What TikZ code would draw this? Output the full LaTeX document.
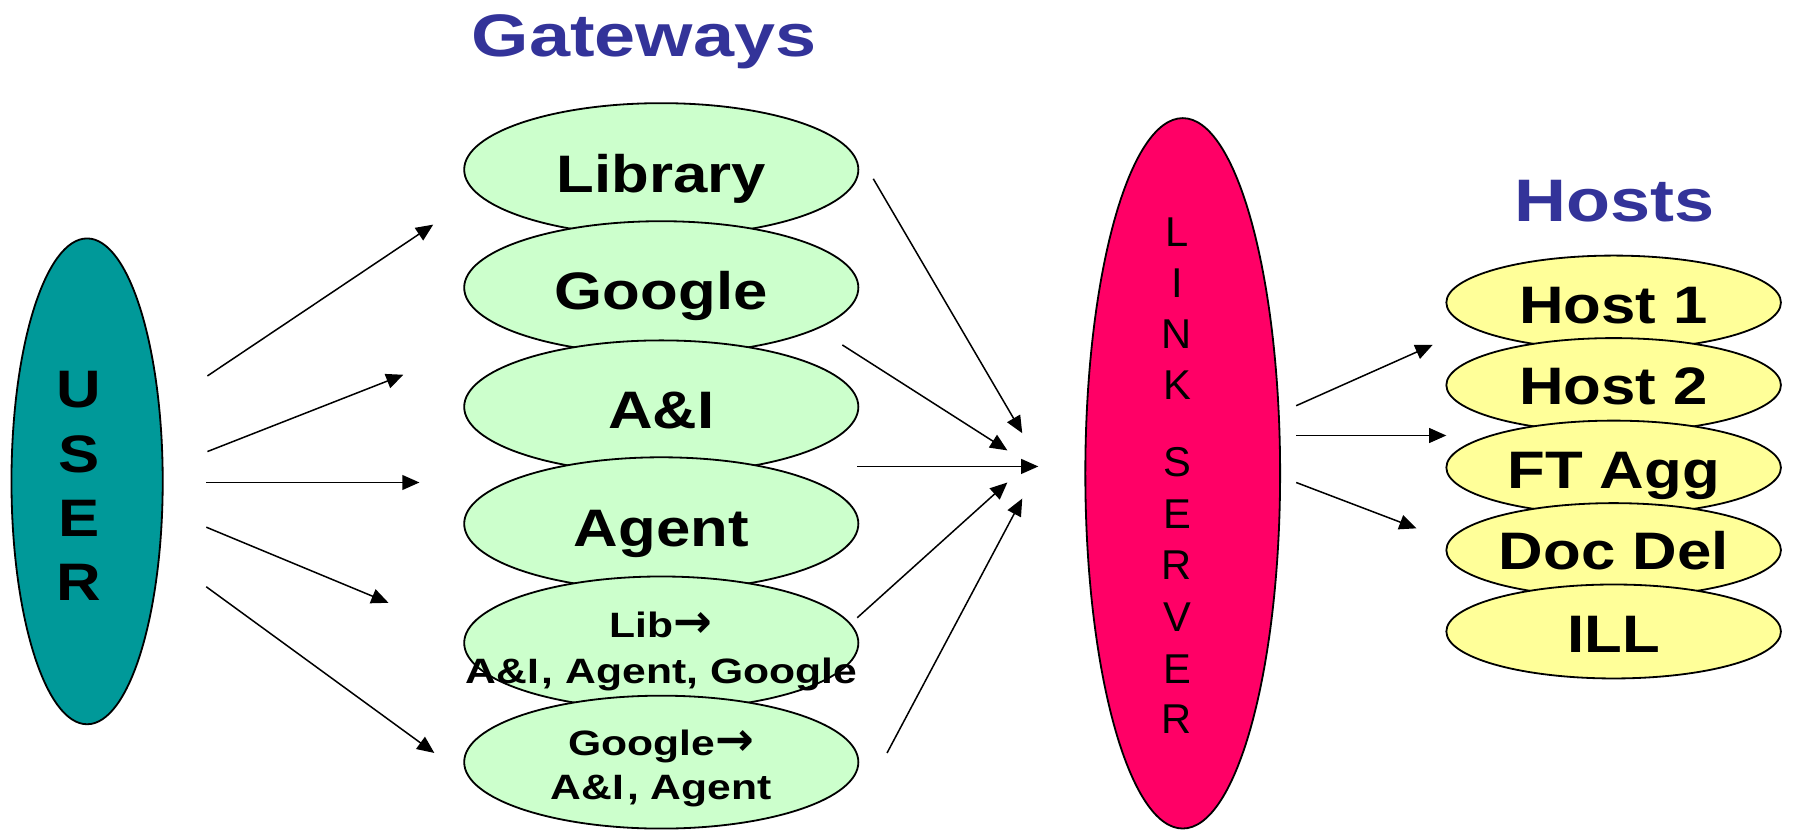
\documentclass[tikz,border=0pt]{standalone}
\usepackage{fontspec}
\setmainfont{Liberation Sans}
\newfontfamily\bodyf[FakeStretch=1.17]{Liberation Sans}
\newfontfamily\smallf[FakeStretch=1.21]{Liberation Sans}
\newfontfamily\titlef[FakeStretch=1.2]{Liberation Sans}
\newfontfamily\gwtitlef[FakeStretch=1.23]{Liberation Sans}
\newfontfamily\arrowf{DejaVu Sans}
\newcommand\myarrow{{\arrowf\bfseries\fontsize{23}{20}\selectfont →}}
\usetikzlibrary{shapes.geometric,arrows.meta}
\definecolor{userteal}{HTML}{009999}
\definecolor{gwgreen}{HTML}{CCFFCC}
\definecolor{linkpink}{HTML}{FF0066}
\definecolor{hostyellow}{HTML}{FFFF99}
\definecolor{titleblue}{HTML}{333399}
\begin{document}
\begin{tikzpicture}[x=0.02cm,y=-0.02cm,
  oval/.style={ellipse,draw=black,line width=0.9pt,inner sep=0pt},
  gw/.style={oval,fill=gwgreen,minimum width=6.88cm,minimum height=2.32cm},
  hostov/.style={oval,fill=hostyellow,minimum width=5.84cm,minimum height=1.64cm},
  bigtxt/.style={font=\bodyf\bfseries\fontsize{26.2}{30}\selectfont,anchor=base,inner sep=0pt},
  smalltxt/.style={font=\smallf\bfseries\fontsize{17.5}{20}\selectfont,anchor=base,inner sep=0pt},
  lettertxt/.style={font=\fontsize{20.7}{24}\selectfont,anchor=base,inner sep=0pt},
  titletxt/.style={font=\titlef\bfseries\fontsize{29.8}{34}\selectfont,text=titleblue,anchor=base,inner sep=0pt},
  arr/.style={-{Triangle[length=0.3cm,width=0.26cm]},line width=0.75pt}]
\useasboundingbox (0,0) rectangle (1568,727);
% titles
\node[titletxt,font=\gwtitlef\bfseries\fontsize{29.8}{34}\selectfont] (tgw) at (562,49) {Gateways};
\node[titletxt] (thost) at (1409,193) {Hosts};
% user
\node[oval,fill=userteal,minimum width=2.64cm,minimum height=8.48cm] (user) at (76,420) {};
\node[bigtxt] (uU) at (69,356) {U};
\node[bigtxt] (uS) at (69,412) {S};
\node[bigtxt] (uE) at (69,468) {E};
\node[bigtxt] (uR) at (69,524) {R};
% gateways
\node[gw] (lib) at (577,148) {};
\node[gw] (goo) at (577,251) {};
\node[gw] (ai) at (577,355) {};
\node[gw] (agent) at (577,457) {};
\node[gw] (libto) at (577,561) {};
\node[gw] (gooto) at (577,665) {};
\node[bigtxt] (tlib) at (577,168) {Library};
\node[bigtxt] (tgoo) at (577,270) {Google};
\node[bigtxt] (tai) at (577,374) {A\&I};
\node[bigtxt] (tagent) at (577,477) {Agent};
\node[smalltxt] (tlibto1) at (577,556) {Lib\myarrow};
\node[smalltxt] (tlibto2) at (577,596) {A\&I\kern1.5pt, Agent, Google};
\node[smalltxt] (tgooto1) at (577,659) {Google\myarrow};
\node[smalltxt] (tgooto2) at (577,698) {A\&I\kern1.5pt, Agent};
% link server
\node[oval,fill=linkpink,minimum width=3.4cm,minimum height=12.4cm] (link) at (1032,413) {};
\node[lettertxt] (l1) at (1027,215) {L};
\node[lettertxt] (l2) at (1027,260) {I};
\node[lettertxt] (l3) at (1027,304) {N};
\node[lettertxt] (l4) at (1027,349) {K};
\node[lettertxt] (l5) at (1027,416) {S};
\node[lettertxt] (l6) at (1027,461) {E};
\node[lettertxt] (l7) at (1027,506) {R};
\node[lettertxt] (l8) at (1027,551) {V};
\node[lettertxt] (l9) at (1027,596) {E};
\node[lettertxt] (l10) at (1027,640) {R};
% hosts
\node[hostov] (h1) at (1408,264) {};
\node[hostov] (h2) at (1408,336) {};
\node[hostov] (h3) at (1408,408) {};
\node[hostov] (h4) at (1408,480) {};
\node[hostov] (h5) at (1408,551) {};
\node[bigtxt] (th1) at (1408,282) {Host 1};
\node[bigtxt] (th2) at (1408,353) {Host 2};
\node[bigtxt] (th3) at (1408,426) {FT Agg};
\node[bigtxt] (th4) at (1408,497) {Doc Del};
\node[bigtxt] (th5) at (1408,569) {ILL};
% arrow end points
\coordinate (u1s) at (181,328); \coordinate (u1e) at (378,196);
\coordinate (u2s) at (181,394); \coordinate (u2e) at (352,327);
\coordinate (u3s) at (180,421); \coordinate (u3e) at (366,421);
\coordinate (u4s) at (180,460); \coordinate (u4e) at (339,526);
\coordinate (u5s) at (180,512); \coordinate (u5e) at (379,657);
\coordinate (g1s) at (762,156); \coordinate (g1e) at (892,378);
\coordinate (g2s) at (735,301); \coordinate (g2e) at (879,393);
\coordinate (g3s) at (748,407); \coordinate (g3e) at (906,407);
\coordinate (g4s) at (748,539); \coordinate (g4e) at (879,421);
\coordinate (g5s) at (774,657); \coordinate (g5e) at (892,435);
\coordinate (h1s) at (1131,354); \coordinate (h1e) at (1250,301);
\coordinate (h2s) at (1131,380); \coordinate (h2e) at (1262,380);
\coordinate (h3s) at (1131,421); \coordinate (h3e) at (1236,461);
\foreach \a in {u1,u2,u3,u4,u5,g1,g2,g3,g4,g5,h1,h2,h3}
  \draw[arr] (\a s) -- (\a e);
\end{tikzpicture}
\end{document}
